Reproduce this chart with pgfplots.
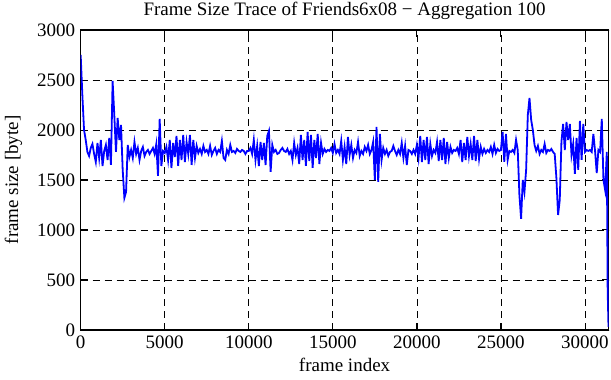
\documentclass[border=0pt]{standalone}
\usepackage{pgfplots}
\pgfplotsset{compat=1.18}
\usepackage{pgfplotstable}
\usepackage{fontspec}
\setmainfont{Liberation Serif}
\usetikzlibrary{calc}
\pgfplotstableread{
x y
0 2750
100 2350
200 2000
300 1900
400 1780
500 1740
600 1820
700 1860
800 1760
900 1680
1000 1870
1100 1720
1200 1900
1300 1640
1400 1790
1500 1850
1600 1700
1700 1920
1800 1650
1900 2490
2000 2150
2100 1780
2200 2120
2300 1900
2400 2050
2500 1600
2600 1320
2700 1380
2800 1850
2900 1730
3000 1800
3100 1720
3200 1880
3300 1760
3400 1820
3500 1700
3600 1790
3700 1830
3800 1740
3900 1780
4000 1800
4100 1760
4200 1790
4300 1820
4400 1760
4500 1860
4600 1540
4700 2110
4800 1640
4900 1790
5000 1770
5100 1830
5200 1700
5300 1900
5400 1620
5500 1870
5600 1730
5700 1940
5800 1640
5900 1900
6000 1700
6100 1950
6200 1680
6300 1880
6400 1760
6500 1950
6600 1650
6700 1900
6800 1720
6900 1840
7000 1770
7100 1810
7200 1760
7300 1840
7400 1780
7500 1800
7600 1760
7700 1840
7800 1750
7900 1790
8000 1820
8100 1760
8200 1800
8300 1780
8400 1890
8500 1720
8600 1700
8700 1800
8800 1760
8900 1850
9000 1780
9100 1790
9200 1770
9300 1810
9400 1790
9500 1780
9600 1800
9700 1790
9800 1760
9900 1790
10000 1790
10100 1820
10200 1760
10300 1900
10400 1700
10500 1840
10600 1640
10700 1880
10800 1700
10900 1870
11000 1650
11100 1940
11200 1990
11300 1580
11400 1850
11500 1780
11600 1800
11700 1760
11800 1770
11900 1800
12000 1820
12100 1790
12200 1780
12300 1810
12400 1760
12500 1790
12600 1700
12700 1870
12800 1750
12900 1820
13000 1660
13100 1950
13200 1700
13300 1900
13400 1640
13500 1980
13600 1690
13700 1950
13800 1620
13900 1900
14000 1720
14100 1960
14200 1660
14300 1870
14400 1760
14500 1810
14600 1780
14700 1800
14800 1790
14900 1820
15000 1770
15100 1860
15200 1770
15300 1800
15400 1760
15500 1890
15600 1700
15700 1830
15800 1660
15900 1930
16000 1750
16100 1850
16200 1720
16300 1800
16400 1770
16500 1880
16600 1740
16700 1790
16800 1760
16900 1830
17000 1790
17100 1850
17200 1760
17300 1800
17400 1880
17500 1500
17600 2030
17700 1480
17800 1960
17900 1700
18000 1820
18100 1760
18200 1800
18300 1740
18400 1780
18500 1790
18600 1840
18700 1790
18800 1750
18900 1800
19000 1760
19100 1870
19200 1720
19300 1840
19400 1650
19500 1800
19600 1790
19700 1760
19800 1800
19900 1760
20000 1850
20100 1720
20200 1940
20300 1680
20400 1900
20500 1700
20600 1930
20700 1660
20800 1860
20900 1740
21000 1800
21100 1770
21200 1880
21300 1690
21400 1900
21500 1700
21600 1920
21700 1660
21800 1880
21900 1720
22000 1830
22100 1770
22200 1800
22300 1790
22400 1820
22500 1760
22600 1900
22700 1680
22800 1870
22900 1700
23000 1930
23100 1740
23200 1860
23300 1700
23400 1940
23500 1690
23600 1900
23700 1710
23800 1830
23900 1760
24000 1810
24100 1770
24200 1800
24300 1780
24400 1830
24500 1760
24600 1850
24700 1770
24800 1810
24900 1790
25000 1800
25100 1980
25200 1680
25300 1960
25400 1700
25500 1790
25600 1780
25700 1800
25800 1770
25900 1900
26000 1800
26100 1350
26200 1110
26300 1500
26400 1380
26500 1600
26600 2150
26700 2320
26800 2100
26900 2000
27000 1850
27100 1790
27200 1840
27300 1760
27400 1800
27500 1780
27600 1860
27700 1770
27800 1800
27900 1790
28000 1810
28100 1780
28200 1760
28300 1520
28400 1150
28500 1300
28600 1880
28700 2060
28800 1800
28900 2080
29000 1900
29100 2060
29200 1750
29300 1860
29400 1560
29500 1920
29600 1600
29700 2090
29800 1700
29900 2060
30000 1780
30100 1800
30200 1790
30300 1800
30400 1780
30500 1960
30600 1790
30700 1570
30800 1800
30900 1780
31000 2110
31100 1500
31200 1400
31300 1780
31350 400
31400 30
}\datatable
\begin{document}
\begin{tikzpicture}
\begin{axis}[
  scale only axis,
  width=528pt, height=300pt,
  xmin=0, xmax=31400, ymin=0, ymax=3000,
  xtick={0,5000,...,30000},
  ytick={0,500,...,3000},
  scaled ticks=false,
  /pgf/number format/assume math mode=true,
  /pgf/number format/1000 sep={},
  grid=major,
  grid style={black, line width=0.7pt, dash pattern=on 7pt off 5pt},
  axis line style={black, line width=1.3pt},
  tick style={black, line width=0.9pt},
  tick align=inside,
  major tick length=7pt,
  tick label style={font=\fontsize{19}{22}\selectfont},
  label style={font=\fontsize{19}{22}\selectfont},
  title style={font=\fontsize{19}{22}\selectfont, yshift=1pt},
  title={Frame Size Trace of Friends6x08 − Aggregation 100},
  xlabel={frame index},
  ylabel={frame size [byte]},
  xticklabel style={yshift=-2pt},
  yticklabel style={xshift=-2pt},
  xlabel style={yshift=-3pt},
  ylabel style={yshift=8pt},
]
\addplot[blue, line width=1.8pt] table[x=x, y=y] {\datatable};
\end{axis}
\pgfresetboundingbox
\path ($(current axis.south west)+(-80.7pt,-50pt)$) rectangle ($(current axis.north east)+(2.5pt,30pt)$);
\end{tikzpicture}
\end{document}
